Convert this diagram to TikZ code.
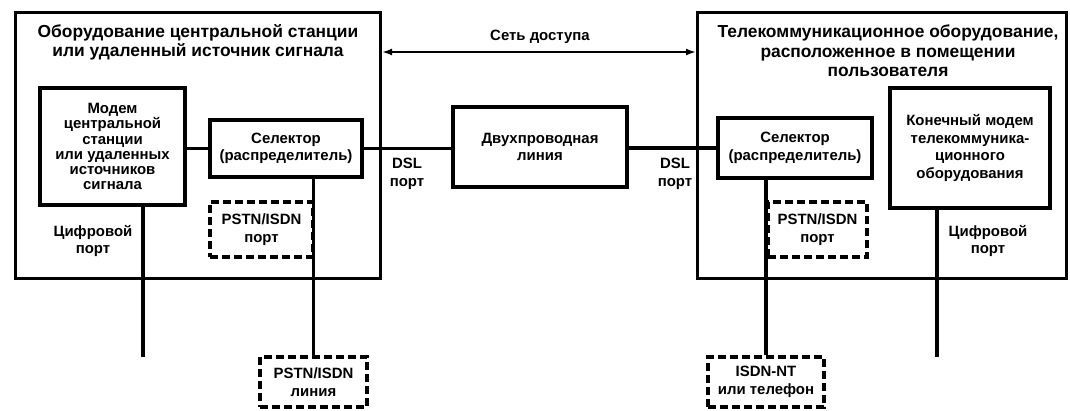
\documentclass[tikz,border=0pt]{standalone}
\usepackage{fontspec}
\setmainfont{Liberation Sans}
\usetikzlibrary{arrows.meta}

\begin{document}
\begin{tikzpicture}[
    x=0.02cm, y=-0.02cm,
    bigbox/.style={draw, line width=1.7pt, minimum height=5.34cm, inner sep=0pt},
    devbox/.style={draw, line width=2.4pt, align=center, inner sep=1pt, font=\fontsize{8.5}{10}\selectfont\bfseries},
    dashbox/.style={draw, line width=1.8pt, dash pattern=on 0.16cm off 0.08cm, align=center, inner sep=1pt, font=\fontsize{8.5}{10}\selectfont\bfseries},
    tag/.style={align=center, inner sep=0pt, font=\fontsize{8.5}{10}\selectfont\bfseries},
    head/.style={align=center, inner sep=0pt, font=\fontsize{9.9}{11}\selectfont\bfseries},
    wire/.style={line width=2.2pt}
]
\useasboundingbox (0,0) rectangle (1070,410);
% outer equipment boxes
\node[bigbox, minimum width=7.32cm] (co) at (198,145.5) {};
\node[bigbox, minimum width=7.4cm] (cpe) at (882,145.5) {};
\node[head] (coT) at (198,42) {Оборудование центральной станции\\или удаленный источник сигнала};
\node[head] (cpeT) at (888,51) {Телекоммуникационное оборудование,\\расположенное в помещении\\пользователя};
% central office side
\node[devbox, minimum width=2.9cm, minimum height=2.34cm, font=\fontsize{8.5}{8.6}\selectfont\bfseries] (modemL) at (112.5,146.5) {Модем\\центральной\\станции\\или удаленных\\источников\\сигнала};
\node[devbox, minimum width=3.04cm, minimum height=1.14cm] (selL) at (286,148.5) {Селектор\\(распределитель)};
\node[dashbox, minimum width=2.06cm, minimum height=1.1cm] (portL) at (261.5,229.5) {PSTN/ISDN\\порт};
\node[tag] (digL) at (93,241) {Цифровой\\порт};
\node[dashbox, minimum width=2.14cm, minimum height=1.0cm] (pstnline) at (313.5,382) {PSTN/ISDN\\линия};
\coordinate (digLend) at (143,357);
% access network
\node[tag] (net) at (540,37) {Сеть доступа};
\coordinate (netL) at (382,52);
\coordinate (netR) at (696,52);
\node[devbox, minimum width=3.48cm, minimum height=1.6cm] (twowire) at (540,147) {Двухпроводная\\линия};
\node[tag] (dslL) at (407,174) {DSL\\порт};
\node[tag] (dslR) at (675,174) {DSL\\порт};
% customer side
\node[devbox, minimum width=3.08cm, minimum height=1.2cm] (selR) at (795,148) {Селектор\\(распределитель)};
\node[dashbox, minimum width=1.98cm, minimum height=1.1cm] (portR) at (817.5,229.5) {PSTN/ISDN\\порт};
\node[devbox, minimum width=3.2cm, minimum height=2.4cm] (modemR) at (970,148) {Конечный модем\\телекоммуника-\\ционного\\оборудования};
\node[tag] (digR) at (988,241) {Цифровой\\порт};
\node[dashbox, minimum width=2.32cm, minimum height=1.0cm] (isdn) at (766,382) {ISDN-NT\\или телефон};
\coordinate (digRend) at (937,357);
% connections
\draw[line width=1.2pt, {Latex[length=0.2cm,width=0.14cm]}-{Latex[length=0.2cm,width=0.14cm]}] (netL) -- (netR);
\draw[wire] (modemL.east |- selL.west) -- (selL.west);
\draw[wire] (selL.east) -- (selL.east -| twowire.west);
\draw[wire] (twowire.east |- selR.west) -- (selR.west);
\draw[wire] (modemL.south -| digLend) -- (digLend);
\draw[wire] (selL.south -| pstnline.north) -- (pstnline.north);
\draw[wire] (selR.south -| isdn.north) -- (isdn.north);
\draw[wire] (modemR.south -| digRend) -- (digRend);
\end{tikzpicture}
\end{document}
